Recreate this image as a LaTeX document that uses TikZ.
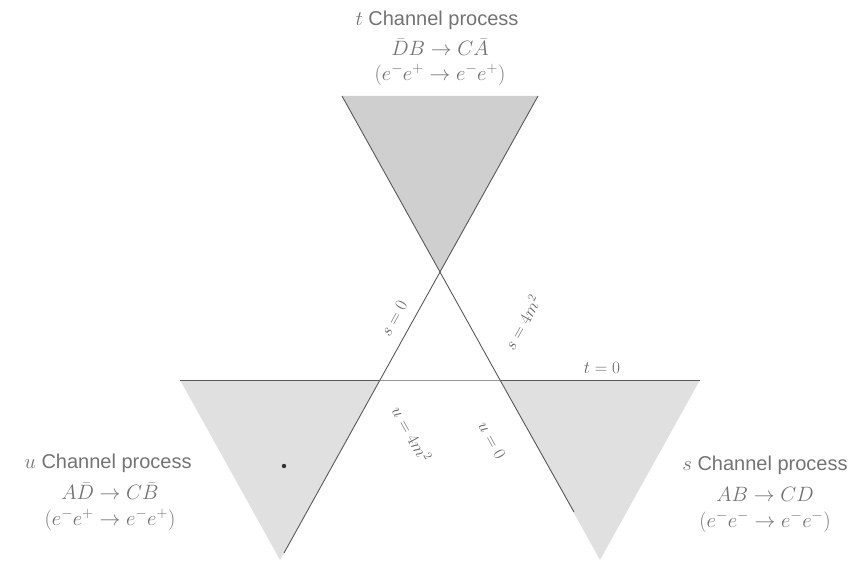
\documentclass[tikz,border=0pt]{standalone}
\usepackage{fontspec}
\setmainfont{Liberation Sans}
\begin{document}
\begin{tikzpicture}[x=1pt,y=-1pt,
  region/.style={fill=black!#1,draw=none},
  bound/.style={draw=black!65,line width=0.9pt},
  proc/.style={text=black!55,font=\fontsize{20}{24}\selectfont,inner sep=0pt},
  lab/.style={text=black!60,font=\fontsize{18}{21}\selectfont,inner sep=0pt}]
\useasboundingbox (0,0) rectangle (862,567);
% key points
\coordinate (T) at (440,272);
\coordinate (L) at (380,380);
\coordinate (R) at (500,380);
\coordinate (TL) at (342,96);
\coordinate (TR) at (538,96);
\coordinate (HL) at (180,380);
\coordinate (HR) at (700,380);
\coordinate (BL) at (280,560);
\coordinate (BR) at (600,560);
\coordinate (AEnd) at (284,553);
\coordinate (BEnd) at (574,512);
% shaded physical regions
\fill[region=19] (TL) -- (TR) -- (T) -- cycle;
\fill[region=12] (HL) -- (L) -- (BL) -- cycle;
\fill[region=12] (R) -- (HR) -- (BR) -- cycle;
% boundary lines
\draw[bound] (TR) -- (T) -- (L) -- (AEnd);
\draw[bound] (TL) -- (T) -- (R) -- (BEnd);
\draw[bound] (HL) -- (L);
\draw[bound,draw=black!40] (L) -- (R);
\draw[bound] (R) -- (HR);
\fill[black!80] (284,466) circle (2.2);
% line labels
\node[lab,rotate=61] (s0) at (394,318) {$s=0$};
\node[lab,rotate=61] (s4) at (522,322) {$s=4m^2$};
\node[lab,rotate=-61] (u4) at (412,434) {$u=4m^2$};
\node[lab,rotate=-61] (u0) at (492,440) {$u=0$};
\node[lab] (t0) at (602,368) {$t=0$};
% process labels
\node[proc] (tch1) at (437,20) {$t$ Channel process};
\node[proc] (tch2) at (440,47) {$\bar{D}B\to C\bar{A}$};
\node[proc] (tch3) at (440,75) {$(e^-e^+\to e^-e^+)$};
\node[proc] (uch1) at (108,463) {$u$ Channel process};
\node[proc] (uch2) at (110,491) {$A\bar{D}\to C\bar{B}$};
\node[proc] (uch3) at (110,520) {$(e^-e^+\to e^-e^+)$};
\node[proc] (sch1) at (765,465) {$s$ Channel process};
\node[proc] (sch2) at (765,494) {$AB\to CD$};
\node[proc] (sch3) at (765,522) {$(e^-e^-\to e^-e^-)$};
\end{tikzpicture}
\end{document}
